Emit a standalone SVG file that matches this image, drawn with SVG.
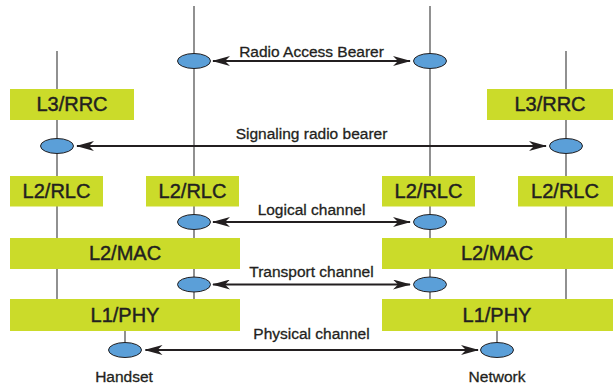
<svg xmlns="http://www.w3.org/2000/svg" width="613" height="385" viewBox="0 0 613 385">
<defs>
<marker id="ah" viewBox="0 0 18 10" refX="17" refY="5" markerWidth="18" markerHeight="10" markerUnits="userSpaceOnUse" orient="auto-start-reverse">
<path d="M0,0 L18,5 L0,10 L5,5 Z" fill="#231f20"/>
</marker>
<style>
.vl{stroke:#555;stroke-width:1.3;fill:none}
.box{fill:#cbdb2a}
.bt{font-family:"Liberation Sans",Arial,sans-serif;font-size:20px;fill:#231f20;stroke:#231f20;stroke-width:0.45;text-anchor:middle}
.lt{font-family:"Liberation Sans",Arial,sans-serif;font-size:15.5px;fill:#231f20;stroke:#231f20;stroke-width:0.3;text-anchor:middle}
.ep{fill:#5b9fd8;stroke:#231f20;stroke-width:1}
.ar{stroke:#231f20;stroke-width:2;fill:none;marker-start:url(#ah);marker-end:url(#ah)}
</style>
</defs>
<rect width="613" height="385" fill="#fff"/>
<g id="stack-lines">
<line class="vl" x1="194" y1="6" x2="194" y2="300"/>
<line class="vl" x1="430" y1="6" x2="430" y2="300"/>
<line class="vl" x1="57" y1="51" x2="57" y2="300"/>
<line class="vl" x1="566" y1="51" x2="566" y2="300"/>
<line class="vl" x1="125" y1="330" x2="125" y2="344"/>
<line class="vl" x1="497" y1="330" x2="497" y2="344"/>
</g>
<g id="l3-rrc-handset"><rect class="box" x="10" y="89" width="124" height="31"/><text class="bt" x="72" y="111">L3/RRC</text></g>
<g id="l3-rrc-network"><rect class="box" x="487" y="89" width="126" height="31"/><text class="bt" x="550" y="111">L3/RRC</text></g>
<g id="l2-rlc-1"><rect class="box" x="10" y="176" width="93" height="30.5"/><text class="bt" x="56.5" y="198">L2/RLC</text></g>
<g id="l2-rlc-2"><rect class="box" x="146" y="176" width="93" height="30.5"/><text class="bt" x="192.5" y="198">L2/RLC</text></g>
<g id="l2-rlc-3"><rect class="box" x="382" y="176" width="93" height="30.5"/><text class="bt" x="428.5" y="198">L2/RLC</text></g>
<g id="l2-rlc-4"><rect class="box" x="518" y="176" width="95" height="30.5"/><text class="bt" x="565" y="198">L2/RLC</text></g>
<g id="l2-mac-handset"><rect class="box" x="10" y="238" width="230" height="31"/><text class="bt" x="125" y="260">L2/MAC</text></g>
<g id="l2-mac-network"><rect class="box" x="382" y="238" width="231" height="31"/><text class="bt" x="497" y="260">L2/MAC</text></g>
<g id="l1-phy-handset"><rect class="box" x="10" y="299" width="230" height="32"/><text class="bt" x="125" y="322">L1/PHY</text></g>
<g id="l1-phy-network"><rect class="box" x="382" y="299" width="231" height="32"/><text class="bt" x="497" y="322">L1/PHY</text></g>
<g id="sap-rab-h"><ellipse class="ep" cx="194" cy="61" rx="16.5" ry="7.5"/></g>
<g id="sap-rab-n"><ellipse class="ep" cx="430" cy="61" rx="16.5" ry="7.5"/></g>
<g id="sap-srb-h"><ellipse class="ep" cx="57" cy="146" rx="16.5" ry="7.5"/></g>
<g id="sap-srb-n"><ellipse class="ep" cx="566" cy="146" rx="16.5" ry="7.5"/></g>
<g id="sap-log-h"><ellipse class="ep" cx="194" cy="222" rx="16.5" ry="7.5"/></g>
<g id="sap-log-n"><ellipse class="ep" cx="430" cy="222" rx="16.5" ry="7.5"/></g>
<g id="sap-tr-h"><ellipse class="ep" cx="194" cy="284.5" rx="16.5" ry="7.5"/></g>
<g id="sap-tr-n"><ellipse class="ep" cx="430" cy="284.5" rx="16.5" ry="7.5"/></g>
<g id="sap-phy-h"><ellipse class="ep" cx="125" cy="350" rx="16.5" ry="7.5"/></g>
<g id="sap-phy-n"><ellipse class="ep" cx="497" cy="350" rx="16.5" ry="7.5"/></g>
<g id="connectors">
<line class="ar" x1="213" y1="61" x2="410" y2="61"/>
<line class="ar" x1="77" y1="146" x2="546" y2="146"/>
<line class="ar" x1="213" y1="222" x2="410" y2="222"/>
<line class="ar" x1="213" y1="284.5" x2="410" y2="284.5"/>
<line class="ar" x1="145.5" y1="350" x2="478" y2="350"/>
<text class="lt" x="311.5" y="56.5">Radio Access Bearer</text>
<text class="lt" x="311.5" y="138.7">Signaling radio bearer</text>
<text class="lt" x="311.5" y="215">Logical channel</text>
<text class="lt" x="311.5" y="277.3">Transport channel</text>
<text class="lt" x="311.5" y="339.3">Physical channel</text>
</g>
<g id="labels">
<text class="lt" x="124" y="381.5">Handset</text>
<text class="lt" x="497" y="381.5">Network</text>
</g>
</svg>
